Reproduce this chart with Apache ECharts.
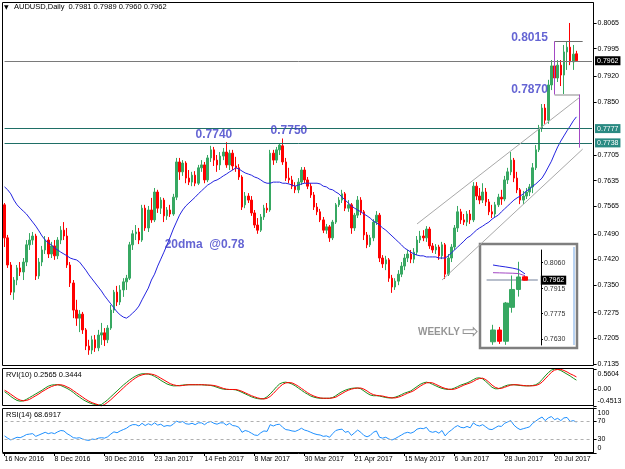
<!DOCTYPE html>
<html><head><meta charset="utf-8">
<script src="https://cdn.jsdelivr.net/npm/echarts@6.0.0/dist/echarts.min.js"></script>
<style>html,body{margin:0;padding:0;background:#fff}#c{width:625px;height:469px}</style>
</head><body><div id="c"></div>
<script>
// ---------- DATA ----------
const opens = [0.7569,0.7479,0.7405,0.7331,0.7364,0.7397,0.7386,0.7413,0.7460,0.7473,
0.7484,0.7375,0.7413,0.7446,0.7473,0.7435,0.7457,0.7430,0.7473,0.7500,
0.7484,0.7405,0.7356,0.7282,0.7260,0.7271,0.7228,0.7184,0.7173,0.7201,
0.7179,0.7214,0.7220,0.7201,0.7233,0.7282,0.7331,0.7304,0.7337,0.7359,
0.7369,0.7460,0.7490,0.7495,0.7473,0.7560,0.7506,0.7555,0.7528,0.7604,
0.7560,0.7582,0.7539,0.7555,0.7544,0.7590,0.7686,0.7659,0.7683,0.7642,
0.7631,0.7650,0.7628,0.7670,0.7678,0.7637,0.7697,0.7719,0.7691,0.7678,
0.7702,0.7713,0.7678,0.7710,0.7675,0.7670,0.7645,0.7569,0.7593,0.7582,
0.7547,0.7514,0.7500,0.7536,0.7560,0.7555,0.7710,0.7691,0.7719,0.7730,
0.7686,0.7642,0.7637,0.7620,0.7610,0.7631,0.7664,0.7637,0.7620,0.7596,
0.7563,0.7550,0.7528,0.7500,0.7509,0.7479,0.7522,0.7569,0.7582,0.7599,
0.7560,0.7569,0.7506,0.7541,0.7582,0.7550,0.7487,0.7460,0.7479,0.7522,
0.7541,0.7424,0.7408,0.7419,0.7369,0.7345,0.7361,0.7380,0.7402,0.7424,
0.7435,0.7421,0.7440,0.7473,0.7484,0.7479,0.7503,0.7457,0.7446,0.7454,
0.7430,0.7460,0.7380,0.7424,0.7454,0.7506,0.7550,0.7528,0.7522,0.7544,
0.7528,0.7620,0.7593,0.7582,0.7604,0.7577,0.7550,0.7544,0.7569,0.7590,
0.7585,0.7637,0.7659,0.7691,0.7642,0.7610,0.7582,0.7593,0.7604,0.7618,
0.7670,0.7719,0.7779,0.7833,0.7800,0.7896,0.7948,0.7915,0.7950,0.7923,
0.7986,0.7999,0.7959,0.7981];
const closes = [0.7479,0.7405,0.7331,0.7364,0.7397,0.7386,0.7413,0.7460,0.7473,0.7484,
0.7375,0.7413,0.7446,0.7473,0.7435,0.7457,0.7430,0.7473,0.7500,0.7484,
0.7405,0.7356,0.7282,0.7260,0.7271,0.7228,0.7184,0.7173,0.7201,0.7179,
0.7214,0.7220,0.7201,0.7233,0.7282,0.7331,0.7304,0.7337,0.7359,0.7369,
0.7460,0.7490,0.7495,0.7473,0.7560,0.7506,0.7555,0.7528,0.7604,0.7560,
0.7582,0.7539,0.7555,0.7544,0.7590,0.7686,0.7659,0.7683,0.7642,0.7631,
0.7650,0.7628,0.7670,0.7678,0.7637,0.7697,0.7719,0.7691,0.7678,0.7702,
0.7713,0.7678,0.7710,0.7675,0.7670,0.7645,0.7563,0.7593,0.7582,0.7547,
0.7514,0.7500,0.7536,0.7560,0.7555,0.7710,0.7691,0.7719,0.7732,0.7686,
0.7642,0.7637,0.7620,0.7610,0.7631,0.7664,0.7637,0.7620,0.7596,0.7563,
0.7550,0.7528,0.7500,0.7509,0.7479,0.7522,0.7569,0.7582,0.7599,0.7560,
0.7569,0.7506,0.7541,0.7582,0.7550,0.7487,0.7460,0.7479,0.7522,0.7541,
0.7424,0.7408,0.7419,0.7369,0.7345,0.7361,0.7380,0.7402,0.7424,0.7435,
0.7421,0.7440,0.7473,0.7484,0.7479,0.7503,0.7457,0.7446,0.7454,0.7430,
0.7460,0.7380,0.7424,0.7454,0.7506,0.7550,0.7528,0.7522,0.7544,0.7528,
0.7620,0.7593,0.7582,0.7604,0.7577,0.7550,0.7544,0.7569,0.7590,0.7585,
0.7637,0.7659,0.7691,0.7642,0.7610,0.7582,0.7593,0.7604,0.7618,0.7670,
0.7719,0.7779,0.7833,0.7800,0.7896,0.7948,0.7915,0.7950,0.7923,0.7986,
0.7999,0.7959,0.7980,0.7962];
const lows = [0.7454,0.7397,0.7323,0.7310,0.7350,0.7375,0.7364,0.7402,0.7446,0.7460,
0.7364,0.7367,0.7402,0.7435,0.7424,0.7424,0.7419,0.7421,0.7462,0.7473,
0.7397,0.7345,0.7260,0.7239,0.7222,0.7217,0.7173,0.7160,0.7162,0.7168,
0.7170,0.7187,0.7184,0.7192,0.7228,0.7274,0.7293,0.7296,0.7318,0.7337,
0.7364,0.7446,0.7473,0.7462,0.7468,0.7498,0.7495,0.7520,0.7522,0.7547,
0.7544,0.7522,0.7528,0.7536,0.7539,0.7582,0.7637,0.7648,0.7628,0.7623,
0.7620,0.7620,0.7623,0.7659,0.7628,0.7631,0.7686,0.7675,0.7659,0.7664,
0.7691,0.7670,0.7664,0.7664,0.7659,0.7637,0.7555,0.7560,0.7574,0.7539,
0.7506,0.7490,0.7495,0.7528,0.7547,0.7550,0.7678,0.7683,0.7705,0.7678,
0.7634,0.7628,0.7612,0.7601,0.7601,0.7623,0.7628,0.7612,0.7588,0.7555,
0.7541,0.7522,0.7492,0.7490,0.7468,0.7473,0.7517,0.7563,0.7574,0.7552,
0.7550,0.7490,0.7498,0.7533,0.7541,0.7473,0.7451,0.7454,0.7470,0.7514,
0.7413,0.7397,0.7391,0.7359,0.7329,0.7337,0.7350,0.7372,0.7391,0.7413,
0.7410,0.7410,0.7432,0.7465,0.7470,0.7468,0.7449,0.7438,0.7435,0.7419,
0.7421,0.7367,0.7375,0.7413,0.7446,0.7495,0.7517,0.7514,0.7511,0.7517,
0.7522,0.7582,0.7571,0.7574,0.7566,0.7541,0.7533,0.7536,0.7563,0.7569,
0.7579,0.7626,0.7650,0.7631,0.7601,0.7571,0.7571,0.7585,0.7593,0.7601,
0.7664,0.7713,0.7768,0.7790,0.7790,0.7882,0.7904,0.7904,0.7893,0.7870,
0.7937,0.7950,0.7937,0.7960];
const highs = [0.7574,0.7487,0.7413,0.7372,0.7405,0.7413,0.7424,0.7473,0.7492,0.7495,
0.7490,0.7424,0.7457,0.7484,0.7481,0.7468,0.7473,0.7481,0.7511,0.7522,
0.7506,0.7413,0.7364,0.7310,0.7282,0.7277,0.7233,0.7201,0.7212,0.7214,
0.7228,0.7247,0.7233,0.7241,0.7296,0.7337,0.7348,0.7350,0.7369,0.7378,
0.7468,0.7500,0.7514,0.7506,0.7569,0.7569,0.7566,0.7588,0.7615,0.7610,
0.7590,0.7588,0.7563,0.7569,0.7599,0.7697,0.7697,0.7691,0.7688,0.7664,
0.7659,0.7661,0.7678,0.7691,0.7686,0.7705,0.7730,0.7727,0.7705,0.7713,
0.7724,0.7740,0.7719,0.7719,0.7700,0.7680,0.7650,0.7604,0.7601,0.7593,
0.7555,0.7533,0.7544,0.7569,0.7574,0.7719,0.7719,0.7727,0.7737,0.7750,
0.7697,0.7670,0.7648,0.7631,0.7642,0.7672,0.7672,0.7645,0.7628,0.7604,
0.7574,0.7558,0.7536,0.7517,0.7514,0.7528,0.7574,0.7590,0.7610,0.7604,
0.7582,0.7574,0.7547,0.7593,0.7590,0.7555,0.7495,0.7487,0.7530,0.7552,
0.7547,0.7432,0.7430,0.7424,0.7378,0.7369,0.7391,0.7413,0.7435,0.7446,
0.7446,0.7451,0.7484,0.7498,0.7500,0.7511,0.7509,0.7465,0.7462,0.7460,
0.7468,0.7465,0.7435,0.7462,0.7514,0.7566,0.7558,0.7544,0.7552,0.7555,
0.7631,0.7631,0.7615,0.7628,0.7615,0.7585,0.7569,0.7577,0.7599,0.7610,
0.7648,0.7670,0.7713,0.7697,0.7659,0.7615,0.7607,0.7615,0.7626,0.7683,
0.7732,0.7787,0.7844,0.7844,0.7910,0.7964,0.7989,0.7964,0.7964,0.8005,
0.8015,0.8065,0.8005,0.7989];
const ma20 = [0.7618,0.7610,0.7599,0.7582,0.7569,0.7560,0.7552,0.7544,0.7533,0.7522,
0.7511,0.7498,0.7484,0.7473,0.7465,0.7460,0.7451,0.7446,0.7440,0.7435,
0.7430,0.7424,0.7421,0.7419,0.7413,0.7402,0.7391,0.7378,0.7367,0.7356,
0.7345,0.7334,0.7321,0.7310,0.7299,0.7288,0.7277,0.7269,0.7263,0.7260,
0.7266,0.7274,0.7282,0.7293,0.7310,0.7326,0.7342,0.7364,0.7380,0.7402,
0.7421,0.7440,0.7460,0.7481,0.7503,0.7522,0.7541,0.7555,0.7566,0.7574,
0.7582,0.7590,0.7599,0.7607,0.7615,0.7623,0.7628,0.7634,0.7637,0.7642,
0.7648,0.7653,0.7659,0.7664,0.7670,0.7667,0.7661,0.7656,0.7653,0.7650,
0.7645,0.7642,0.7637,0.7631,0.7628,0.7628,0.7631,0.7631,0.7631,0.7628,
0.7628,0.7626,0.7623,0.7620,0.7623,0.7626,0.7628,0.7628,0.7628,0.7628,
0.7628,0.7626,0.7620,0.7618,0.7612,0.7610,0.7604,0.7599,0.7590,0.7582,
0.7574,0.7566,0.7560,0.7555,0.7550,0.7544,0.7539,0.7533,0.7525,0.7520,
0.7514,0.7506,0.7500,0.7492,0.7484,0.7476,0.7468,0.7460,0.7451,0.7446,
0.7440,0.7435,0.7432,0.7430,0.7430,0.7427,0.7427,0.7427,0.7427,0.7424,
0.7424,0.7424,0.7430,0.7438,0.7446,0.7454,0.7462,0.7470,0.7479,0.7484,
0.7492,0.7500,0.7506,0.7511,0.7517,0.7522,0.7530,0.7536,0.7541,0.7550,
0.7558,0.7566,0.7574,0.7582,0.7588,0.7593,0.7599,0.7607,0.7612,0.7620,
0.7626,0.7634,0.7642,0.7656,0.7672,0.7688,0.7708,0.7727,0.7743,0.7757,
0.7771,0.7784,0.7798,0.7809];
const rviMain = [-0.06,-0.12,-0.19,-0.25,-0.30,-0.32,-0.31,-0.27,-0.22,-0.17,
-0.12,-0.07,-0.02,0.04,0.09,0.12,0.13,0.13,0.11,0.07,
0.03,-0.02,-0.08,-0.15,-0.21,-0.27,-0.32,-0.36,-0.39,-0.41,
-0.43,-0.41,-0.35,-0.28,-0.20,-0.12,-0.04,0.04,0.12,0.19,
0.26,0.32,0.37,0.41,0.43,0.43,0.42,0.40,0.36,0.31,
0.25,0.20,0.15,0.12,0.10,0.10,0.11,0.12,0.13,0.13,
0.13,0.13,0.13,0.13,0.12,0.12,0.11,0.09,0.06,0.03,
0.01,0.00,0.00,0.00,-0.01,-0.04,-0.08,-0.12,-0.16,-0.20,
-0.23,-0.25,-0.26,-0.25,-0.20,-0.12,-0.03,0.07,0.15,0.19,
0.20,0.18,0.15,0.10,0.04,-0.02,-0.08,-0.13,-0.18,-0.21,
-0.23,-0.24,-0.24,-0.24,-0.24,-0.22,-0.17,-0.11,-0.06,-0.02,
0.01,0.03,0.04,0.04,0.02,-0.04,-0.10,-0.15,-0.17,-0.17,
-0.18,-0.20,-0.22,-0.23,-0.23,-0.21,-0.18,-0.14,-0.10,-0.07,
-0.04,0.02,0.08,0.14,0.18,0.20,0.18,0.14,0.10,0.06,
0.03,0.01,0.00,0.01,0.04,0.08,0.12,0.15,0.18,0.22,
0.27,0.31,0.32,0.29,0.22,0.14,0.06,0.02,0.02,0.05,
0.09,0.12,0.13,0.13,0.12,0.11,0.10,0.10,0.10,0.11,
0.13,0.18,0.27,0.37,0.46,0.53,0.5604,0.55,0.52,0.47,
0.42,0.37,0.31,0.2565];
const rviSignal = [-0.02,-0.07,-0.13,-0.19,-0.25,-0.29,-0.31,-0.30,-0.27,-0.22,
-0.17,-0.12,-0.06,-0.01,0.04,0.08,0.11,0.13,0.13,0.11,
0.07,0.03,-0.03,-0.09,-0.15,-0.21,-0.27,-0.32,-0.36,-0.39,
-0.42,-0.4513,-0.41,-0.35,-0.28,-0.20,-0.12,-0.04,0.04,0.12,
0.19,0.26,0.32,0.37,0.40,0.42,0.43,0.42,0.40,0.36,
0.31,0.26,0.21,0.16,0.13,0.11,0.10,0.11,0.12,0.13,
0.13,0.13,0.13,0.13,0.13,0.12,0.12,0.11,0.09,0.06,
0.03,0.01,0.00,0.00,0.00,-0.02,-0.05,-0.09,-0.13,-0.17,
-0.20,-0.23,-0.25,-0.26,-0.24,-0.19,-0.11,-0.02,0.07,0.14,
0.18,0.19,0.18,0.14,0.09,0.03,-0.03,-0.09,-0.14,-0.18,
-0.21,-0.23,-0.24,-0.24,-0.24,-0.23,-0.21,-0.16,-0.11,-0.06,
-0.02,0.01,0.03,0.04,0.04,0.01,-0.04,-0.10,-0.14,-0.16,
-0.17,-0.18,-0.20,-0.22,-0.23,-0.23,-0.21,-0.18,-0.14,-0.10,
-0.07,-0.03,0.03,0.09,0.14,0.18,0.19,0.18,0.14,0.10,
0.06,0.03,0.01,0.00,0.01,0.04,0.08,0.12,0.15,0.18,
0.22,0.27,0.30,0.31,0.27,0.20,0.12,0.06,0.03,0.03,
0.06,0.09,0.12,0.13,0.13,0.12,0.11,0.10,0.10,0.10,
0.11,0.14,0.20,0.29,0.38,0.47,0.53,0.55,0.55,0.52,
0.48,0.43,0.39,0.3444];
const rsi14 = [38,33,29,32,35,34,37,41,42,43,
37,40,43,46,43,45,43,47,50,49,
43,39,34,33,34,31,29,28,31,30,
33,34,33,36,42,47,45,49,52,55,
60,63,63,60,66,61,65,62,67,62,
64,59,61,60,64,71,68,70,65,64,
66,63,67,67,63,68,70,66,64,67,
67,62,66,61,60,57,46,50,48,44,
40,39,45,49,48,63,60,63,64,57,
52,51,49,48,51,55,51,49,46,43,
41,40,37,38,35,43,50,52,53,46,
48,39,45,51,46,39,36,39,46,49,
35,33,35,31,29,32,36,40,44,46,
44,47,53,55,54,57,48,46,48,44,
50,38,46,51,57,61,57,56,59,56,
67,62,60,63,58,53,52,56,60,59,
66,69,72,62,56,52,54,56,58,66,
71,76,80,72,78,81,74,77,72,78,
79,70,72,68.6917];
// tick labels of the axes
const priceTicks = [0.7135,0.7205,0.7275,0.7350,0.7420,0.7490,0.7565,0.7635,0.7705,0.7850,0.7920,0.7995,0.8065];
const rviTicks = [-0.4513, 0, 0.5604];
const rsiTicks = [0, 30, 70, 100];
const rsiLevels = [30, 70];
// horizontal levels
const tealLevels = [0.7777, 0.7738];
const bidPrice = 0.7962;
// weekly inset
const weekCats = ['', '26 Jun', '3 Jul', '10 Jul', '17 Jul', '24 Jul', '31 Jul', '', ''];
const wOpen  = [null, 0.7617, 0.7683, 0.7620, 0.7810, 0.7910, 0.7981];
const wClose = [null, 0.7683, 0.7620, 0.7834, 0.7910, 0.7980, 0.7962];
const wLow   = [null, 0.7600, 0.7605, 0.7600, 0.7780, 0.7870, 0.7960];
const wHigh  = [null, 0.7712, 0.7700, 0.7840, 0.7988, 0.8065, 0.7989];
const wBlue  = [null, 0.8047, 0.8041, 0.8036, 0.8030, 0.8022, 0.7997];
const wPurple= [null, 0.8004, 0.8003, 0.8002, 0.8001, 0.7999, 0.7987];
const weekTicks = [0.7630, 0.7775, 0.7915, 0.8060];

// ---------- annotations (data coordinates: bar index, price) ----------
const segs = [
  {a:[176,0.8015], b:[185,0.8015], color:'#6d6d6d', w:1},
  {a:[176,0.7870], b:[184,0.7870], color:'#c4c4c4', w:2},
  {a:[176,0.8015], b:[176,0.7870], color:'#a347c4', w:1},
  {a:[184,0.7870], b:[184,0.7725], color:'#a347c4', w:1},
  {a:[132,0.7517], b:[184,0.7862], color:'#a9a9a9', w:1},
  {a:[140,0.7364], b:[185,0.7721], color:'#a9a9a9', w:1}
];
const notes = [
  {t:'0.8015', at:[168,0.8025]},
  {t:'0.7870', at:[168,0.7882]},
  {t:'0.7740', at:[67,0.7760]},
  {t:'0.7750', at:[91,0.7770]},
  {t:'20dma  @0.78', at:[64,0.7460]}
];

// ---------- build ----------
const FONT = 'Liberation Sans';
const MON = ['Jan','Feb','Mar','Apr','May','Jun','Jul','Aug','Sep','Oct','Nov','Dec'];
const SLOTS = 189;
const cats = [];
let dt = new Date(Date.UTC(2016,10,16));
while (cats.length < SLOTS) {
  const wd = dt.getUTCDay();
  if (wd !== 0 && wd !== 6) cats.push(dt.getUTCDate()+' '+MON[dt.getUTCMonth()]+' '+dt.getUTCFullYear());
  dt = new Date(dt.getTime()+86400000);
}
const candles = opens.map((o,i)=>[o, closes[i], lows[i], highs[i]]);
const weekly = wOpen.map((o,i)=> o==null ? '-' : [o, wClose[i], wLow[i], wHigh[i]]);
const last = candles.length-1;
const BULL = '#37a862', BEAR = '#ff0000';
const GL = 3, GW = 590.6;
const showDate = (idx)=> idx % 16 === 0 && idx <= 176;

const chart = echarts.init(document.getElementById('c'), null, {renderer:'canvas', width:625, height:469});
const hideX = (g)=>({type:'category', gridIndex:g, data:cats, boundaryGap:true, axisLine:{show:false}, axisTick:{show:false}, axisLabel:{show:false}, splitLine:{show:false}});
const rich = {t:{padding:[10,0,0,0], fontSize:7, fontFamily:FONT, color:'#000'}, b:{padding:[0,0,10,0], fontSize:7, fontFamily:FONT, color:'#000'}};
const boxLabel = (txt, bg)=>({show:true, position:'end', distance:3, formatter:txt, backgroundColor:bg, color:'#fff', padding:[1,2,1,2], fontSize:7, fontFamily:FONT});
const fullLine = (v, x0, x1, color, width, label)=>[{coord:[x0, v], lineStyle:{color:color, width:width, type:'solid'}, label:label || {show:false}}, {coord:[x1, v]}];

chart.setOption({
  animation:false,
  backgroundColor:'#fff',
  textStyle:{fontFamily:FONT},
  grid:[
    {left:GL, top:3, width:GW, height:361, outerBoundsMode:'none'},
    {left:GL, top:369, width:GW, height:37, outerBoundsMode:'none'},
    {left:GL, top:408, width:GW, height:45, outerBoundsMode:'none'},
    {left:483.4, top:250, width:57.6, height:95, outerBoundsMode:'none', z:20}
  ],
  xAxis:[
    hideX(0), hideX(1),
    {type:'category', gridIndex:2, data:cats, boundaryGap:true,
     axisLine:{show:true, lineStyle:{color:'#000'}},
     axisTick:{show:true, interval:showDate, alignWithLabel:true, length:3, lineStyle:{color:'#000'}},
     axisLabel:{show:true, interval:showDate, align:'left', fontSize:7, color:'#000', margin:3, fontFamily:FONT}},
    {type:'category', gridIndex:3, data:weekCats, boundaryGap:true, axisLine:{show:false}, axisTick:{show:false}, axisLabel:{show:false}}
  ],
  yAxis:[
    {type:'value', gridIndex:0, position:'right', min:0.7135, max:0.81195, scale:true,
     axisLine:{show:true, lineStyle:{color:'#000'}},
     axisTick:{show:true, length:3, customValues:priceTicks, lineStyle:{color:'#000'}},
     axisLabel:{show:true, customValues:priceTicks, formatter:v=>v.toFixed(4), fontSize:7, color:'#000', margin:4, fontFamily:FONT},
     splitLine:{show:false}},
    {type:'value', gridIndex:1, position:'right', min:rviTicks[0], max:rviTicks[2],
     axisLine:{show:true, lineStyle:{color:'#000'}},
     axisTick:{show:true, length:3, customValues:rviTicks, lineStyle:{color:'#000'}},
     axisLabel:{show:true, customValues:rviTicks, fontSize:7, color:'#000', margin:4, fontFamily:FONT, rich:rich,
       formatter:v=> v===rviTicks[2] ? '{t|'+v.toFixed(4)+'}' : (v===rviTicks[0] ? '{b|'+v.toFixed(4)+'}' : '0.00')},
     splitLine:{show:false}},
    {type:'value', gridIndex:2, position:'right', min:0, max:100,
     axisLine:{show:true, lineStyle:{color:'#000'}},
     axisTick:{show:true, length:3, customValues:rsiTicks, lineStyle:{color:'#000'}},
     axisLabel:{show:true, customValues:rsiTicks, fontSize:7, color:'#000', margin:4, fontFamily:FONT, rich:rich,
       formatter:v=> v===100 ? '{t|100}' : (v===0 ? '{b|0}' : String(v))},
     splitLine:{show:false}},
    {type:'value', gridIndex:3, position:'right', min:0.7599, max:0.8131, z:40,
     axisLine:{show:true, lineStyle:{color:'#000'}},
     axisTick:{show:true, length:2, customValues:weekTicks, lineStyle:{color:'#000'}},
     axisLabel:{show:true, customValues:weekTicks, formatter:v=>v.toFixed(4), fontSize:7, color:'#333', margin:3, fontFamily:FONT},
     splitLine:{show:false}}
  ],
  series:[
    {type:'candlestick', xAxisIndex:0, yAxisIndex:0, data:candles, barWidth:2,
     itemStyle:{color:BULL, color0:BEAR, borderColor:BULL, borderColor0:BEAR, borderWidth:1}},
    {type:'line', xAxisIndex:0, yAxisIndex:0, data:ma20, symbol:'none', lineStyle:{color:'#2424e0', width:1}, z:3,
     markLine:{silent:true, symbol:['none','none'], animation:false,
       data:[
         ...tealLevels.map(v=>fullLine(v, 0, SLOTS-1, '#1f6f66', 1, boxLabel(v.toFixed(4), '#2a8a82'))),
         fullLine(bidPrice, 0, SLOTS-1, '#7a7a7a', 1, boxLabel(bidPrice.toFixed(4), '#000')),
         ...segs.map(s=>[{coord:s.a, lineStyle:{color:s.color, width:s.w, type:'solid'}, label:{show:false}},{coord:s.b}])
       ]}},
    {type:'scatter', xAxisIndex:0, yAxisIndex:0, symbolSize:0, z:10,
     data:notes.map(n=>({value:n.at, label:{formatter:n.t}})),
     label:{show:true, position:'inside', color:'#3d3dc8', fontSize:12, fontWeight:'bold', fontFamily:FONT}},
    {type:'scatter', xAxisIndex:0, yAxisIndex:0, symbolSize:0, z:10,
     data:[{value:[139,0.7221], label:{formatter:'WEEKLY', fontSize:10}}, {value:[149,0.7221], label:{formatter:'⇨', fontSize:20, fontFamily:'DejaVu Sans', fontWeight:'normal'}}],
     label:{show:true, position:'inside', color:'#7b7b7b', fontWeight:'bold', fontFamily:FONT}},
    {type:'line', xAxisIndex:1, yAxisIndex:1, data:rviMain, symbol:'none', lineStyle:{color:'#1b8c1b', width:1}},
    {type:'line', xAxisIndex:1, yAxisIndex:1, data:rviSignal, symbol:'none', lineStyle:{color:'#ff0000', width:1}},
    {type:'line', xAxisIndex:2, yAxisIndex:2, data:rsi14, symbol:'none', lineStyle:{color:'#1e90ff', width:1},
     markLine:{silent:true, symbol:['none','none'], label:{show:false},
       data:rsiLevels.map(v=>fullLine(v, 0, SLOTS-1, '#b0b0b0', 1)).map(p=>{p[0].lineStyle.type=[3,3]; return p;})}},
    {type:'candlestick', xAxisIndex:3, yAxisIndex:3, data:weekly, barWidth:5, z:21,
     itemStyle:{color:BULL, color0:BEAR, borderColor:BULL, borderColor0:BEAR}},
    {type:'line', xAxisIndex:3, yAxisIndex:3, data:wBlue, symbol:'none', lineStyle:{color:'#2424e0', width:1}, z:22,
     markLine:{silent:true, symbol:['none','none'], animation:false, z:21,
       data:[fullLine(bidPrice, 0, 8, '#b8bfcc', 2, boxLabel(bidPrice.toFixed(4), '#000'))]}},
    {type:'line', xAxisIndex:3, yAxisIndex:3, data:wPurple, symbol:'none', lineStyle:{color:'#a347c4', width:1}, z:22}
  ],
  graphic:[
    {type:'rect', shape:{x:2.5, y:2.5, width:591, height:363}, style:{fill:null, stroke:'#000', lineWidth:1}, silent:true, z:50},
    {type:'rect', shape:{x:2.5, y:368.5, width:591, height:37}, style:{fill:null, stroke:'#000', lineWidth:1}, silent:true, z:50},
    {type:'rect', shape:{x:2.5, y:408.5, width:591, height:44}, style:{fill:null, stroke:'#000', lineWidth:1}, silent:true, z:50},
    {type:'rect', shape:{x:480, y:244, width:97, height:104}, style:{fill:'#fff', stroke:'#7f7f7f', lineWidth:2.5}, silent:true, z:-1},
    {type:'rect', shape:{x:573, y:247, width:2, height:98}, style:{fill:'#b9d3f2'}, silent:true, z:-1},
    {type:'text', left:4, top:4, style:{text:'▼', fontSize:6, fill:'#000', fontFamily:'DejaVu Sans'}, z:60},
    {type:'text', left:14, top:3, style:{text:'AUDUSD,Daily  '+[opens[last],highs[last],lows[last],closes[last]].map(v=>v.toFixed(4)).join(' '), fontSize:7.5, fill:'#000', fontFamily:FONT}, z:60},
    {type:'text', left:6, top:371, style:{text:'RVI(10) '+rviMain[last].toFixed(4)+' '+rviSignal[last].toFixed(4), fontSize:7.5, fill:'#000', fontFamily:FONT}, z:60},
    {type:'text', left:6, top:411, style:{text:'RSI(14) '+rsi14[last].toFixed(4), fontSize:7.5, fill:'#000', fontFamily:FONT}, z:60}
  ]
});
</script></body></html>
